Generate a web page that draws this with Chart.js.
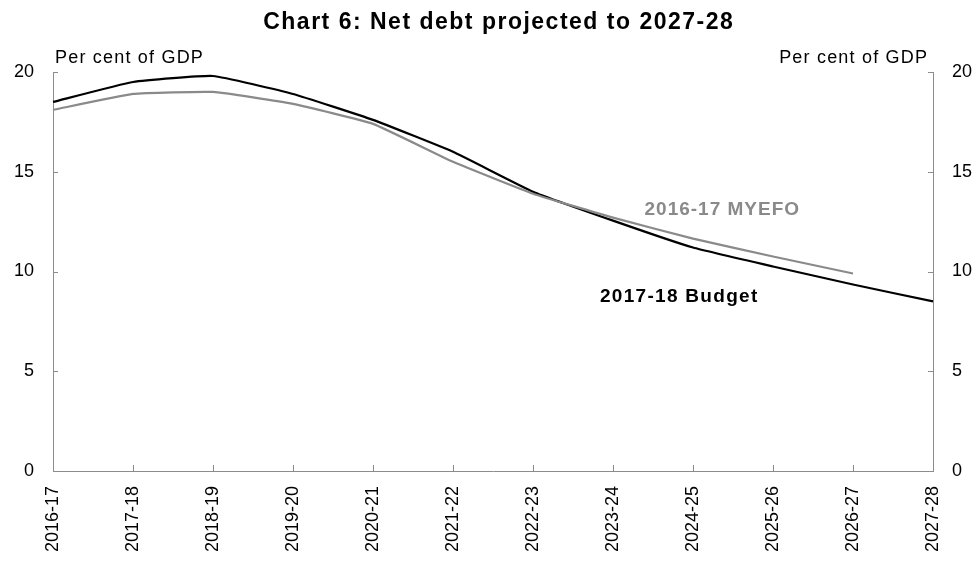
<!DOCTYPE html>
<html>
<head>
<meta charset="utf-8">
<script src="https://cdn.jsdelivr.net/npm/chart.js@4/dist/chart.umd.min.js"></script>
<style>
  html, body { margin: 0; padding: 0; background: #ffffff; }
  #wrap { width: 976px; height: 563px; position: relative; }
</style>
</head>
<body>
<div id="wrap"><canvas id="c" width="976" height="563"></canvas></div>
<script>
const titleText = 'Chart 6: Net debt projected to 2027-28';
const unitLabel = 'Per cent of GDP';
const categories = ['2016-17','2017-18','2018-19','2019-20','2020-21','2021-22','2022-23','2023-24','2024-25','2025-26','2026-27','2027-28'];
const budget2017 = [18.5, 19.5, 19.8, 18.9, 17.6, 16.0, 14.0, 12.55, 11.2, 10.25, 9.35, 8.5];
const myefo2016 = [18.1, 18.9, 19.0, 18.4, 17.4, 15.5, 13.9, 12.7, 11.65, 10.75, 9.9];
const yTicks = [0, 5, 10, 15, 20];
const seriesNames = ['2017-18 Budget', '2016-17 MYEFO'];

const FONT = "'Liberation Sans', Arial, sans-serif";
const GREY = '#8a8a8a';
const AXIS = '#8c8c8c';

function spaced(ctx, text, x, y, align, spacing) {
  ctx.letterSpacing = spacing + 'px';
  const w = ctx.measureText(text).width - spacing;
  let sx = x;
  if (align === 'center') sx = x - w / 2;
  else if (align === 'right') sx = x - w;
  ctx.textAlign = 'left';
  ctx.fillText(text, sx, y);
  ctx.letterSpacing = '0px';
}

const decor = {
  id: 'decor',
  afterDraw(chart) {
    const ctx = chart.ctx;
    const a = chart.chartArea;
    const x = chart.scales.x, y = chart.scales.y;
    ctx.save();
    // inward tick marks
    ctx.strokeStyle = AXIS;
    ctx.lineWidth = 1;
    ctx.beginPath();
    yTicks.forEach(v => {
      const py = Math.round(y.getPixelForValue(v)) + 0.5;
      ctx.moveTo(a.left, py); ctx.lineTo(a.left + 5, py);
      ctx.moveTo(a.right, py); ctx.lineTo(a.right - 5, py);
    });
    categories.forEach((c, i) => {
      const px = Math.round(x.getPixelForValue(i)) + 0.5;
      ctx.moveTo(px, a.bottom); ctx.lineTo(px, a.bottom - 6);
    });
    ctx.stroke();
    ctx.textBaseline = 'alphabetic';
    // title
    ctx.fillStyle = '#000';
    ctx.font = 'bold 23px ' + FONT;
    spaced(ctx, titleText, 498, 29, 'center', 1.5);
    // unit labels
    ctx.font = '18px ' + FONT;
    spaced(ctx, unitLabel, 55, 63, 'left', 1.2);
    spaced(ctx, unitLabel, 927, 63, 'right', 1.2);
    // series labels
    ctx.font = 'bold 19px ' + FONT;
    ctx.fillStyle = GREY;
    spaced(ctx, seriesNames[1], x.getPixelForValue(8.36), y.getPixelForValue(12.85), 'center', 1.0);
    ctx.fillStyle = '#000';
    spaced(ctx, seriesNames[0], x.getPixelForValue(7.82), y.getPixelForValue(8.45), 'center', 1.3);
    ctx.restore();
  }
};

new Chart(document.getElementById('c'), {
  type: 'line',
  data: {
    labels: categories,
    datasets: [
      { label: seriesNames[1], data: myefo2016, borderColor: GREY, borderWidth: 2.2, pointRadius: 0, tension: 0.12, fill: false, yAxisID: 'y' },
      { label: seriesNames[0], data: budget2017, borderColor: '#000000', borderWidth: 2.2, pointRadius: 0, tension: 0.12, fill: false, yAxisID: 'y' }
    ]
  },
  options: {
    responsive: false,
    animation: false,
    devicePixelRatio: 1,
    layout: { padding: { top: 72, left: 0, right: 0, bottom: 0 } },
    plugins: { legend: { display: false }, title: { display: false }, tooltip: { enabled: false } },
    scales: {
      x: {
        type: 'category',
        offset: false,
        grid: { display: true, drawOnChartArea: false, drawTicks: false },
        border: { display: true, color: AXIS, width: 1 },
        ticks: { color: '#000', font: { family: FONT, size: 18 }, minRotation: 90, maxRotation: 90, autoSkip: false, padding: 15 },
        afterFit(s) { s.height = 92; }
      },
      y: {
        position: 'left',
        min: 0, max: 20,
        grid: { display: true, drawOnChartArea: false, drawTicks: false },
        border: { display: true, color: AXIS, width: 1 },
        ticks: { stepSize: 5, color: '#000', font: { family: FONT, size: 18 }, padding: 19 },
        afterFit(s) { s.width = 53; }
      },
      y2: {
        position: 'right',
        min: 0, max: 20,
        grid: { display: true, drawOnChartArea: false, drawTicks: false },
        border: { display: true, color: AXIS, width: 1 },
        ticks: { stepSize: 5, color: '#000', font: { family: FONT, size: 18 }, padding: 19 },
        afterFit(s) { s.width = 43; }
      }
    }
  },
  plugins: [decor]
});
</script>
</body>
</html>
